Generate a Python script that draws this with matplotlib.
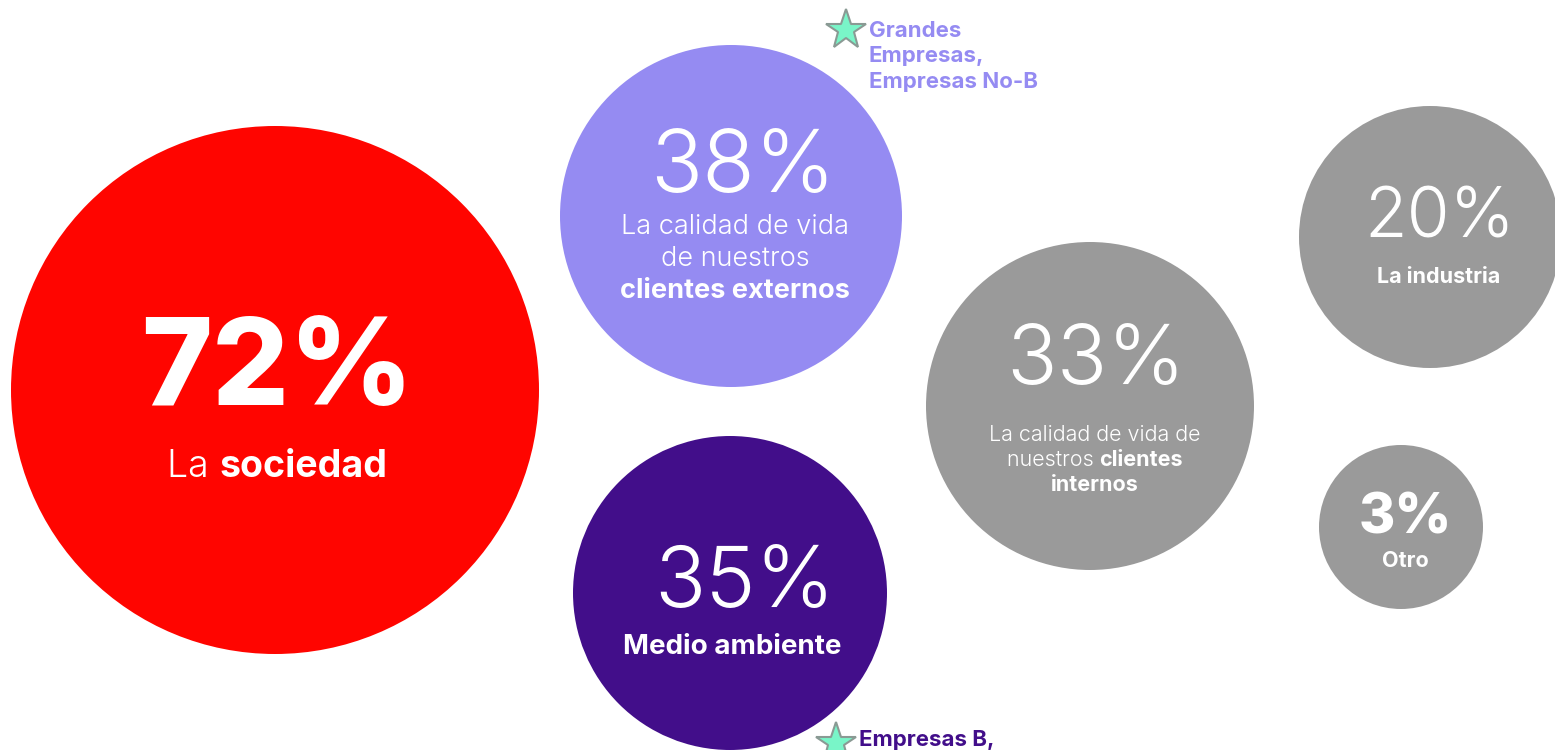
import matplotlib
matplotlib.use('Agg')
import matplotlib.pyplot as plt
from matplotlib.patches import Circle

plt.rcParams['font.family'] = ['Inter', 'DejaVu Sans']

# data
values = [72, 38, 35, 33, 20, 3]
pct_labels = [str(v) + '%' for v in values]
# each label is a list of lines, each line a list of (text, bold) runs
desc_labels = [
    [[('La ', False), ('sociedad', True)]],
    [[('La calidad de vida', False)], [('de nuestros', False)], [('clientes externos', True)]],
    [[('Medio ambiente', True)]],
    [[('La calidad de vida de', False)], [('nuestros ', False), ('clientes', True)], [('internos', True)]],
    [[('La industria', True)]],
    [[('Otro', True)]],
]
star_notes = ['Grandes\nEmpresas,\nEmpresas No-B', 'Empresas B,']

# layout (pixels), y values are baselines
centers = [(275, 390), (731, 216), (730, 593), (1090, 406), (1430, 237), (1401, 527)]
radii = [264, 171, 157, 164, 131, 82]
colors = ['#ff0500', '#958bf2', '#420e8a', '#9a9a9a', '#9a9a9a', '#9a9a9a']
pct_pos = [(277, 405), (743, 192), (745, 607), (1096, 384), (1440, 237), (1405, 533)]
pct_size = [87, 62, 61, 60, 50, 40]
pct_bold = [True, False, False, False, False, True]
desc_pos = [(277, 477), (735, 234), (732, 654), (1095, 441), (1439, 283), (1405, 567)]
desc_size = [27, 19.5, 20, 15.5, 15.5, 15.5]
desc_step = [0, 32, 0, 25, 0, 0]
star_pos = [(846, 30), (836, 743)]
note_pos = [(869, 37), (859, 746)]
note_colors = ['#958bf2', '#420e8a']

fig = plt.figure(figsize=(15.55, 7.5), dpi=100)
ax = fig.add_axes([0, 0, 1, 1])
ax.set_xlim(0, 1555)
ax.set_ylim(750, 0)
ax.axis('off')

for (cx, cy), r, c in zip(centers, radii, colors):
    ax.add_patch(Circle((cx, cy), r, color=c, lw=0))

for lab, (x, y), fs, b in zip(pct_labels, pct_pos, pct_size, pct_bold):
    ax.text(x, y, lab, ha='center', va='baseline', color='white', fontsize=fs,
            fontweight='heavy' if b else 300)

renderer = fig.canvas.get_renderer()


def draw_runs(x, y, runs, fs):
    # draw runs of mixed weight centred on x
    parts = []
    for txt, bold in runs:
        t = ax.text(0, y, txt, ha='left', va='baseline', color='white', fontsize=fs,
                    fontweight='bold' if bold else 300)
        parts.append(t)
    widths = [t.get_window_extent(renderer).width for t in parts]
    left = x - sum(widths) / 2
    for t, w in zip(parts, widths):
        t.set_x(left)
        left += w


for lines, (x, y), fs, step in zip(desc_labels, desc_pos, desc_size, desc_step):
    for i, runs in enumerate(lines):
        draw_runs(x, y + i * step, runs, fs)

for (sx, sy), (nx, ny), note, nc in zip(star_pos, note_pos, star_notes, note_colors):
    ax.plot(sx, sy, marker='*', markersize=30, color='#79f5c8',
            markeredgecolor='#8a9a94', markeredgewidth=1.5, clip_on=False)
    for i, line in enumerate(note.split('\n')):
        ax.text(nx, ny + i * 25.5, line, ha='left', va='baseline', color=nc,
                fontsize=16, fontweight='bold')

fig.savefig('out.png', dpi=100)
